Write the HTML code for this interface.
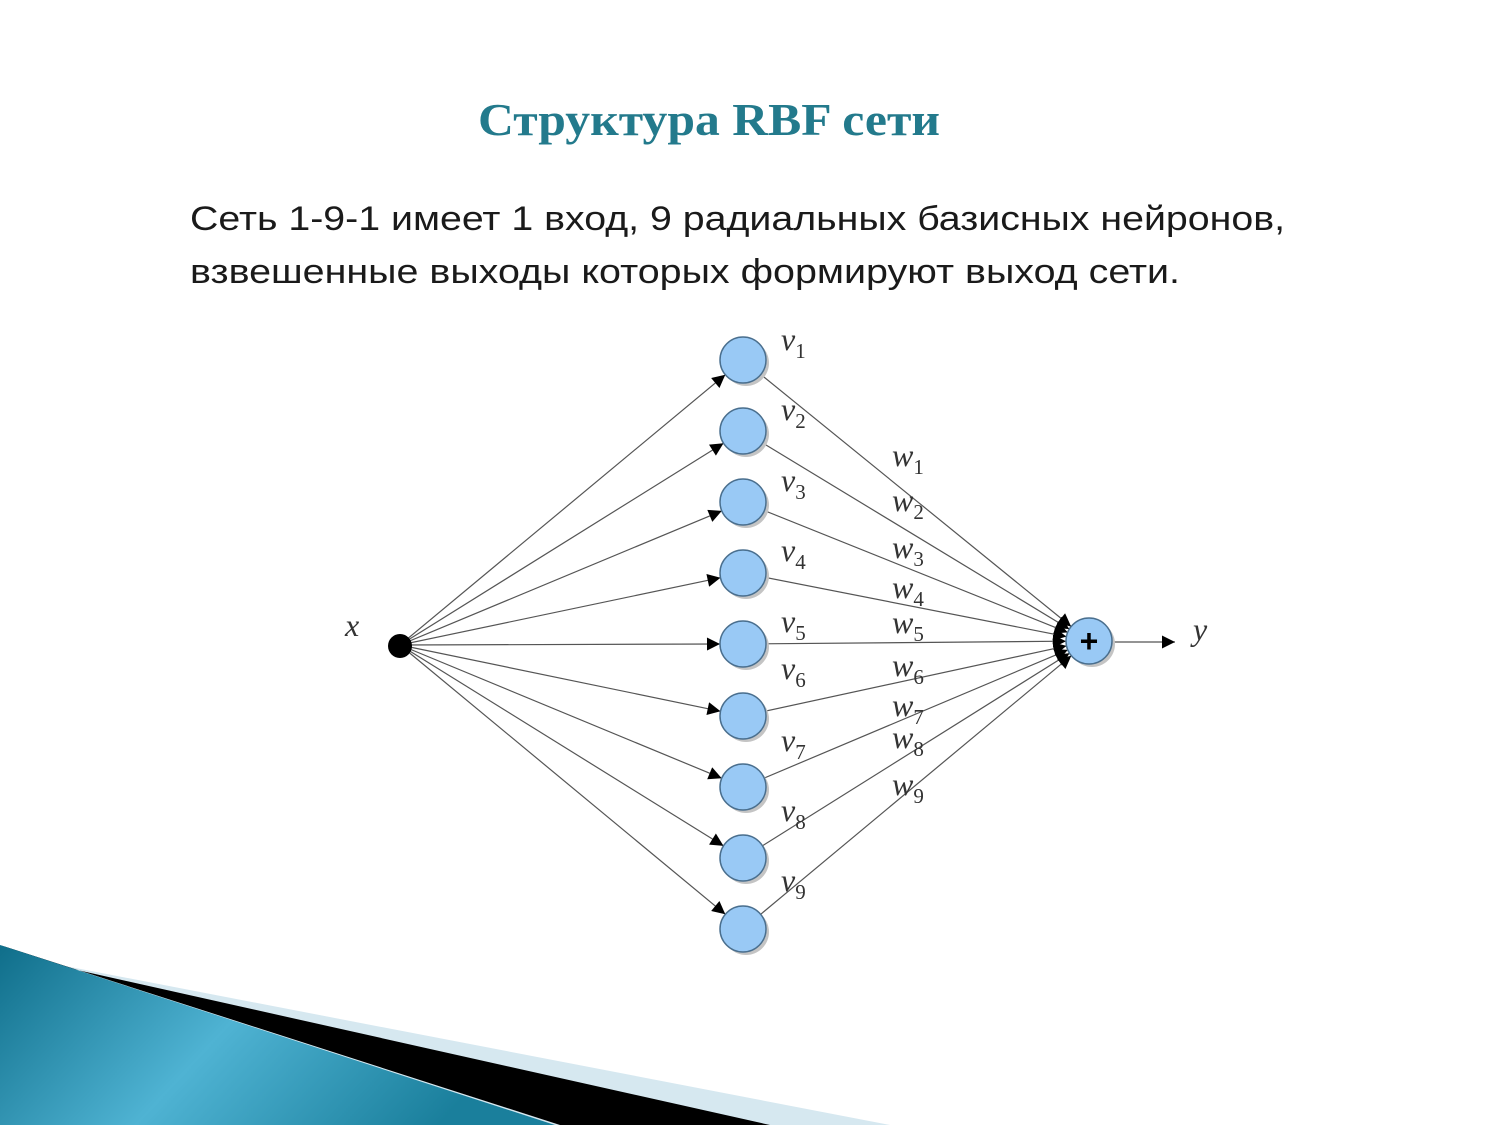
<!DOCTYPE html>
<html><head><meta charset="utf-8"><style>html,body{margin:0;padding:0;background:#fff}svg{display:block}</style></head>
<body>
<svg width="1500" height="1125" viewBox="0 0 1500 1125" xmlns="http://www.w3.org/2000/svg">
<defs>
<marker id="a" viewBox="0 0 10 10" refX="10" refY="5" markerWidth="20" markerHeight="13" markerUnits="userSpaceOnUse" orient="auto"><path d="M0,0L10,5L0,10z" fill="#000"/></marker>
<linearGradient id="tg" x1="0" y1="0" x2="1" y2="0.3"><stop offset="0" stop-color="#0f6e8a"/><stop offset="0.5" stop-color="#4fb3d3"/><stop offset="1" stop-color="#1a7f9c"/></linearGradient>
</defs>
<polygon points="60,965 890,1125 0,1125" fill="#d6e8f0"/>
<polygon points="55,965 770,1125 560,1125 0,945" fill="#000"/>
<polygon points="0,945 555,1125 0,1125" fill="url(#tg)"/>
<text x="478" y="135" font-family="Liberation Serif, serif" font-weight="bold" font-size="46" fill="#237a8c" textLength="462" lengthAdjust="spacingAndGlyphs">Структура RBF сети</text>
<text x="190" y="230" font-family="Liberation Sans, sans-serif" font-size="34" fill="#1a1a1a" textLength="1095" lengthAdjust="spacingAndGlyphs">Сеть 1-9-1 имеет 1 вход, 9 радиальных базисных нейронов,</text>
<text x="190" y="283" font-family="Liberation Sans, sans-serif" font-size="34" fill="#1a1a1a" textLength="990" lengthAdjust="spacingAndGlyphs">взвешенные выходы которых формируют выход сети.</text>
<g stroke="#555" stroke-width="1.2" fill="none" marker-end="url(#a)">
<line x1="400" y1="645" x2="725.3" y2="374.7"/>
<line x1="400" y1="645" x2="723.5" y2="443.2"/>
<line x1="400" y1="645" x2="721.8" y2="510.9"/>
<line x1="400" y1="645" x2="720.5" y2="577.7"/>
<line x1="400" y1="645" x2="720" y2="644"/>
<line x1="400" y1="645" x2="720.5" y2="711.3"/>
<line x1="400" y1="645" x2="721.7" y2="778.2"/>
<line x1="400" y1="645" x2="723.5" y2="845.9"/>
<line x1="400" y1="645" x2="725.3" y2="914.3"/>
</g>
<g stroke="#555" stroke-width="1.2" fill="none" marker-end="url(#a)">
<line x1="743" y1="360" x2="1071.1" y2="626.5"/>
<line x1="743" y1="431" x2="1069.3" y2="629.1"/>
<line x1="743" y1="502" x2="1067.7" y2="632.4"/>
<line x1="743" y1="573" x2="1066.4" y2="636.6"/>
<line x1="743" y1="644" x2="1066" y2="641.2"/>
<line x1="743" y1="716" x2="1066.5" y2="645.9"/>
<line x1="743" y1="787" x2="1067.8" y2="649.9"/>
<line x1="743" y1="858" x2="1069.5" y2="653.2"/>
<line x1="743" y1="929" x2="1071.3" y2="655.7"/>
<line x1="1112" y1="642" x2="1175" y2="642"/>
</g>
<circle cx="400" cy="646" r="12" fill="#000"/>
<g fill="#c4c4c4">
<circle cx="746" cy="363" r="23"/><circle cx="746" cy="434" r="23"/><circle cx="746" cy="505" r="23"/>
<circle cx="746" cy="576" r="23"/><circle cx="746" cy="647" r="23"/><circle cx="746" cy="719" r="23"/>
<circle cx="746" cy="790" r="23"/><circle cx="746" cy="861" r="23"/><circle cx="746" cy="932" r="23"/>
<circle cx="1092" cy="644" r="23"/>
</g>
<g fill="#99c9f5" stroke="#4a6f8e" stroke-width="1.5">
<circle cx="743" cy="360" r="23"/>
<circle cx="743" cy="431" r="23"/>
<circle cx="743" cy="502" r="23"/>
<circle cx="743" cy="573" r="23"/>
<circle cx="743" cy="644" r="23"/>
<circle cx="743" cy="716" r="23"/>
<circle cx="743" cy="787" r="23"/>
<circle cx="743" cy="858" r="23"/>
<circle cx="743" cy="929" r="23"/>
<circle cx="1089" cy="641" r="23"/>
</g>
<text x="1089" y="652" text-anchor="middle" font-family="Liberation Sans, sans-serif" font-weight="bold" font-size="32" fill="#000">+</text>
<g font-family="Liberation Serif, serif" font-style="italic" font-size="32" fill="#333">
<text x="345" y="636">x</text>
<text x="1193" y="640">y</text>
<text x="781" y="350">v<tspan font-size="21" font-style="normal" dy="8">1</tspan></text>
<text x="781" y="420">v<tspan font-size="21" font-style="normal" dy="8">2</tspan></text>
<text x="781" y="491">v<tspan font-size="21" font-style="normal" dy="8">3</tspan></text>
<text x="781" y="561">v<tspan font-size="21" font-style="normal" dy="8">4</tspan></text>
<text x="781" y="632">v<tspan font-size="21" font-style="normal" dy="8">5</tspan></text>
<text x="781" y="679">v<tspan font-size="21" font-style="normal" dy="8">6</tspan></text>
<text x="781" y="751">v<tspan font-size="21" font-style="normal" dy="8">7</tspan></text>
<text x="781" y="821">v<tspan font-size="21" font-style="normal" dy="8">8</tspan></text>
<text x="781" y="891">v<tspan font-size="21" font-style="normal" dy="8">9</tspan></text>
<text x="892" y="466">w<tspan font-size="21" font-style="normal" dy="8">1</tspan></text>
<text x="892" y="511">w<tspan font-size="21" font-style="normal" dy="8">2</tspan></text>
<text x="892" y="558">w<tspan font-size="21" font-style="normal" dy="8">3</tspan></text>
<text x="892" y="598">w<tspan font-size="21" font-style="normal" dy="8">4</tspan></text>
<text x="892" y="633">w<tspan font-size="21" font-style="normal" dy="8">5</tspan></text>
<text x="892" y="676">w<tspan font-size="21" font-style="normal" dy="8">6</tspan></text>
<text x="892" y="716">w<tspan font-size="21" font-style="normal" dy="8">7</tspan></text>
<text x="892" y="748">w<tspan font-size="21" font-style="normal" dy="8">8</tspan></text>
<text x="892" y="795">w<tspan font-size="21" font-style="normal" dy="8">9</tspan></text>
</g>
</svg>
</body></html>
